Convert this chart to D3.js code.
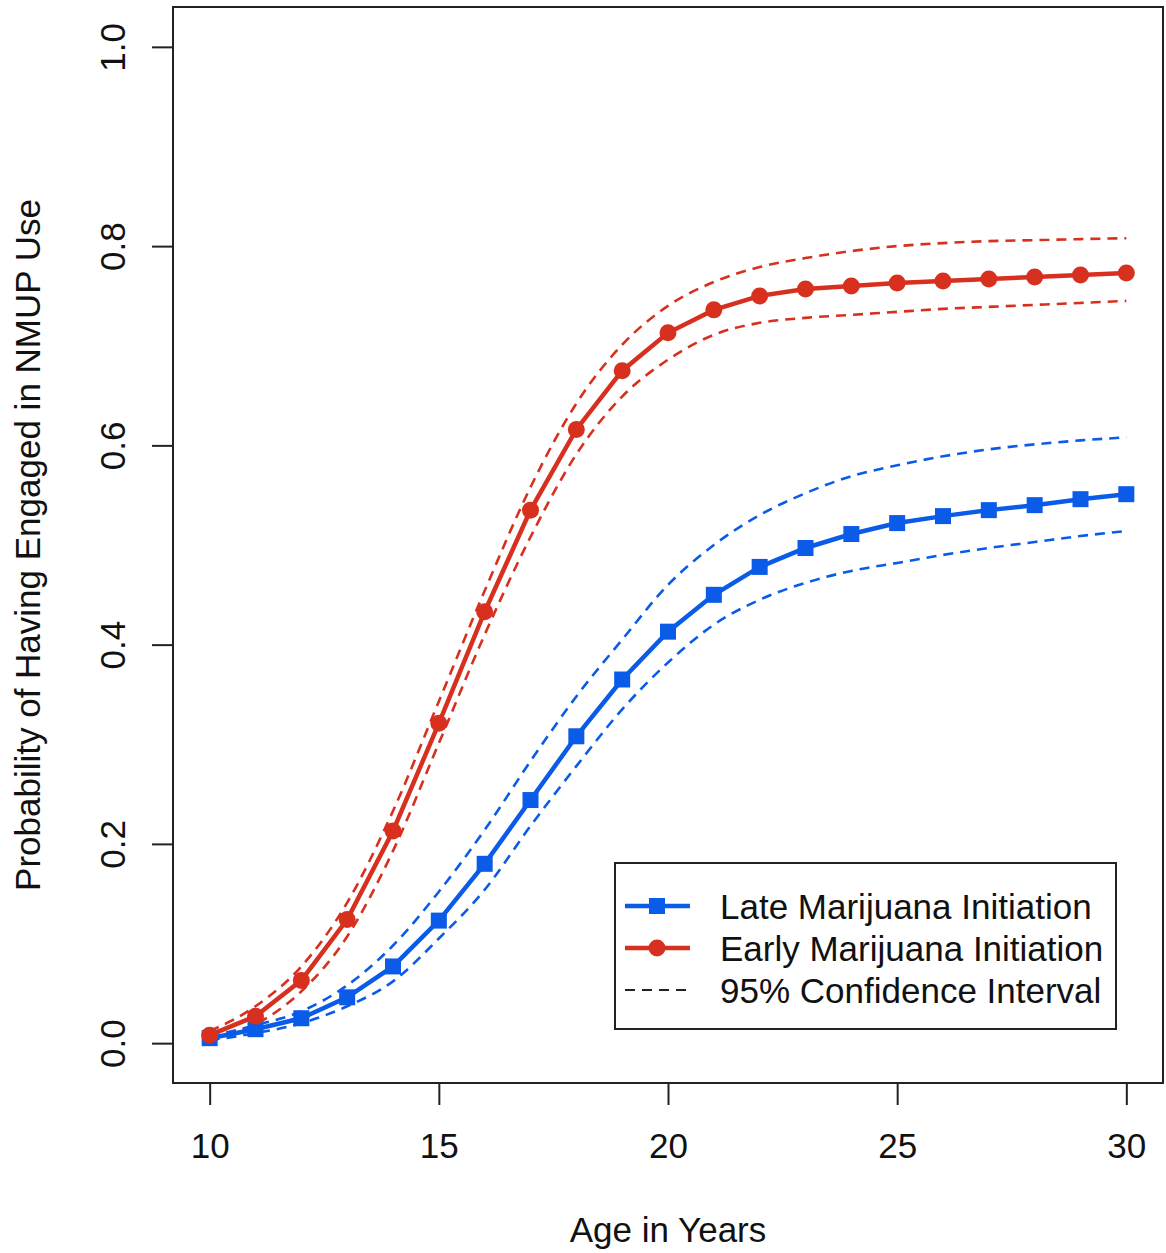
<!DOCTYPE html>
<html>
<head>
<meta charset="utf-8">
<script src="https://cdn.jsdelivr.net/npm/d3@7/dist/d3.min.js"></script>
<style>
  body { margin: 0; background: #fff; }
  svg text { font-family: "Liberation Sans", Arial, Helvetica, sans-serif; fill: #111; }
</style>
</head>
<body>
<div id="chart"></div>
<script>
"use strict";

var ages = [10, 11, 12, 13, 14, 15, 16, 17, 18, 19, 20, 21, 22, 23, 24, 25, 26, 27, 28, 29, 30];

var earlyValues = [0.008, 0.027, 0.063, 0.124, 0.213, 0.321, 0.433, 0.535, 0.616, 0.675, 0.713,
                   0.736, 0.750, 0.757, 0.760, 0.763, 0.765, 0.767, 0.769, 0.771, 0.773];
var earlyUpper  = [0.012, 0.037, 0.077, 0.141, 0.233, 0.343, 0.454, 0.558, 0.642, 0.701, 0.740,
                   0.764, 0.779, 0.788, 0.795, 0.800, 0.803, 0.805, 0.806, 0.807, 0.808];
var earlyLower  = [0.005, 0.019, 0.052, 0.107, 0.193, 0.301, 0.410, 0.508, 0.591, 0.649, 0.686,
                   0.711, 0.723, 0.728, 0.731, 0.734, 0.737, 0.739, 0.741, 0.743, 0.745];

var lateValues  = [0.005, 0.014, 0.025, 0.046, 0.077, 0.123, 0.180, 0.244, 0.308, 0.365, 0.413,
                   0.450, 0.478, 0.497, 0.511, 0.522, 0.529, 0.535, 0.540, 0.546, 0.551];
var lateUpper   = [0.007, 0.018, 0.032, 0.058, 0.098, 0.152, 0.214, 0.283, 0.348, 0.405, 0.460,
                   0.500, 0.530, 0.552, 0.569, 0.580, 0.589, 0.596, 0.601, 0.605, 0.608];
var lateLower   = [0.003, 0.010, 0.020, 0.037, 0.062, 0.105, 0.154, 0.218, 0.278, 0.335, 0.382,
                   0.420, 0.445, 0.462, 0.474, 0.482, 0.490, 0.497, 0.503, 0.509, 0.514];

var xTicks = [10, 15, 20, 25, 30];
var yTicks = [0.0, 0.2, 0.4, 0.6, 0.8, 1.0];

var legendLabels = ["Late Marijuana Initiation", "Early Marijuana Initiation", "95% Confidence Interval"];

var RED  = "#d7301f";
var BLUE = "#0a5ce8";

var width  = 1166;
var height = 1253;
var box    = { left: 173, right: 1163, top: 7, bottom: 1083 };
var fontSize = 35;

var svg = d3.select("#chart").append("svg")
  .attr("width", width)
  .attr("height", height);

// R-style 4% padding around the data range
var x = d3.scaleLinear().domain([9.2, 30.8]).range([box.left, box.right]);
var y = d3.scaleLinear().domain([-0.04, 1.04]).range([box.bottom, box.top]);

var toPoints = function(vals) {
  return ages.map(function(a, i) { return { age: a, v: vals[i] }; });
};

var straight = d3.line()
  .x(function(d) { return x(d.age); })
  .y(function(d) { return y(d.v); });

var smooth = d3.line()
  .curve(d3.curveMonotoneX)
  .x(function(d) { return x(d.age); })
  .y(function(d) { return y(d.v); });

// confidence bands (dashed)
var bands = [
  { vals: earlyUpper, color: RED }, { vals: earlyLower, color: RED },
  { vals: lateUpper, color: BLUE }, { vals: lateLower, color: BLUE }
];

svg.selectAll(".ci")
  .data(bands)
  .enter().append("path")
  .attr("class", "ci")
  .attr("d", function(d) { return smooth(toPoints(d.vals)); })
  .attr("fill", "none")
  .attr("stroke", function(d) { return d.color; })
  .attr("stroke-width", 2.6)
  .attr("stroke-dasharray", "10,7");

// main lines
svg.append("path")
  .attr("d", straight(toPoints(lateValues)))
  .attr("fill", "none")
  .attr("stroke", BLUE)
  .attr("stroke-width", 4.5);

svg.append("path")
  .attr("d", straight(toPoints(earlyValues)))
  .attr("fill", "none")
  .attr("stroke", RED)
  .attr("stroke-width", 4.5);

// markers
svg.selectAll(".sq")
  .data(toPoints(lateValues))
  .enter().append("rect")
  .attr("class", "sq")
  .attr("x", function(d) { return x(d.age) - 8; })
  .attr("y", function(d) { return y(d.v) - 8; })
  .attr("width", 16)
  .attr("height", 16)
  .attr("fill", BLUE);

svg.selectAll(".dot")
  .data(toPoints(earlyValues))
  .enter().append("circle")
  .attr("class", "dot")
  .attr("cx", function(d) { return x(d.age); })
  .attr("cy", function(d) { return y(d.v); })
  .attr("r", 8.5)
  .attr("fill", RED);

// frame
svg.append("rect")
  .attr("x", box.left)
  .attr("y", box.top)
  .attr("width", box.right - box.left)
  .attr("height", box.bottom - box.top)
  .attr("fill", "none")
  .attr("stroke", "#222")
  .attr("stroke-width", 2);

// x axis
var xAxis = svg.append("g")
  .attr("transform", "translate(0," + box.bottom + ")")
  .call(d3.axisBottom(x).tickValues(xTicks).tickSize(22).tickPadding(28).tickFormat(d3.format("d")));
xAxis.select(".domain").remove();
xAxis.selectAll("line").attr("stroke", "#222").attr("stroke-width", 2);
xAxis.selectAll("text")
  .attr("font-size", fontSize);

// y axis, labels turned like R's las = 0
var yAxis = svg.append("g")
  .attr("transform", "translate(" + box.left + ",0)")
  .call(d3.axisLeft(y).tickValues(yTicks).tickSize(21).tickFormat(d3.format(".1f")));
yAxis.select(".domain").remove();
yAxis.selectAll("line").attr("stroke", "#222").attr("stroke-width", 2);
yAxis.selectAll("text")
  .attr("font-size", fontSize)
  .attr("x", null)
  .attr("dy", null)
  .attr("text-anchor", "middle")
  .attr("transform", "translate(-48,0) rotate(-90)");

svg.selectAll(".tick text").attr("font-family", null);

// axis titles
svg.append("text")
  .attr("x", x(20))
  .attr("y", 1242)
  .attr("text-anchor", "middle")
  .attr("font-size", fontSize)
  .text("Age in Years");

svg.append("text")
  .attr("transform", "translate(40," + y(0.5) + ") rotate(-90)")
  .attr("text-anchor", "middle")
  .attr("font-size", fontSize)
  .text("Probability of Having Engaged in NMUP Use");

// legend
var legend = svg.append("g");
legend.append("rect")
  .attr("x", 615)
  .attr("y", 863)
  .attr("width", 501)
  .attr("height", 166)
  .attr("fill", "#fff")
  .attr("stroke", "#222")
  .attr("stroke-width", 2);

var rowY = [906, 948, 990];

legend.append("line")
  .attr("x1", 625).attr("x2", 690)
  .attr("y1", rowY[0]).attr("y2", rowY[0])
  .attr("stroke", BLUE).attr("stroke-width", 4.5);
legend.append("rect")
  .attr("x", 657 - 8).attr("y", rowY[0] - 8)
  .attr("width", 16).attr("height", 16)
  .attr("fill", BLUE);

legend.append("line")
  .attr("x1", 625).attr("x2", 690)
  .attr("y1", rowY[1]).attr("y2", rowY[1])
  .attr("stroke", RED).attr("stroke-width", 4.5);
legend.append("circle")
  .attr("cx", 657).attr("cy", rowY[1]).attr("r", 8.5)
  .attr("fill", RED);

legend.append("line")
  .attr("x1", 625).attr("x2", 690)
  .attr("y1", rowY[2]).attr("y2", rowY[2])
  .attr("stroke", "#222").attr("stroke-width", 2)
  .attr("stroke-dasharray", "10,7");

legend.selectAll(".lab")
  .data(legendLabels)
  .enter().append("text")
  .attr("class", "lab")
  .attr("x", 720)
  .attr("y", function(d, i) { return rowY[i]; })
  .attr("dy", "0.36em")
  .attr("font-size", 35)
  .text(function(d) { return d; });
</script>
</body>
</html>
